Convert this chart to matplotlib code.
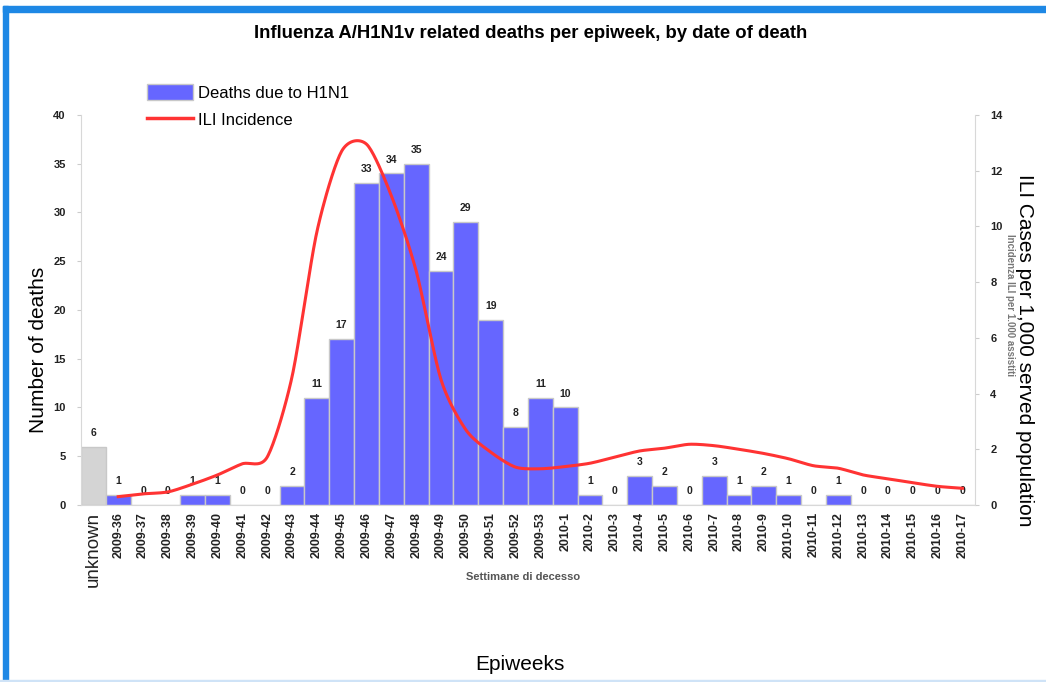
import matplotlib.pyplot as plt
import numpy as np
from matplotlib.patches import Rectangle
from matplotlib.lines import Line2D
from matplotlib.patches import Patch

plt.rcParams['font.family'] = ['Liberation Sans', 'DejaVu Sans']

# Data
weeks = (["unknown"]
         + [f"2009-{w}" for w in range(36, 54)]
         + [f"2010-{w}" for w in range(1, 18)])
deaths = [6,
          1, 0, 0, 1, 1, 0, 0, 2, 11, 17, 33, 34, 35, 24, 29, 19, 8, 11,
          10, 1, 0, 3, 2, 0, 3, 1, 2, 1, 0, 1, 0, 0, 0, 0, 0]
# ILI incidence per 1,000 (no value for "unknown")
ili = [0.3, 0.4, 0.47, 0.75, 1.08, 1.48, 1.72, 4.6, 9.8, 12.7, 12.95, 11.1,
       8.4, 4.5, 2.7, 1.9, 1.36, 1.3,
       1.38, 1.5, 1.72, 1.94, 2.04, 2.18, 2.13, 2.0, 1.85, 1.66, 1.41, 1.32,
       1.08, 0.94, 0.8, 0.67, 0.6]


def smooth(xs, ys, n=20, k=0.8):
    # cardinal spline through the points (like Excel "smoothed line")
    xs = np.asarray(xs, float)
    ys = np.asarray(ys, float)
    px = np.concatenate([[2 * xs[0] - xs[1]], xs, [2 * xs[-1] - xs[-2]]])
    py = np.concatenate([[2 * ys[0] - ys[1]], ys, [2 * ys[-1] - ys[-2]]])
    ox, oy = [], []
    t = np.linspace(0, 1, n, endpoint=False)
    h00 = 2 * t ** 3 - 3 * t ** 2 + 1
    h10 = t ** 3 - 2 * t ** 2 + t
    h01 = -2 * t ** 3 + 3 * t ** 2
    h11 = t ** 3 - t ** 2
    for i in range(1, len(px) - 2):
        for p, o in ((px, ox), (py, oy)):
            m1 = k * (p[i + 1] - p[i - 1]) / 2
            m2 = k * (p[i + 2] - p[i]) / 2
            o.extend(h00 * p[i] + h10 * m1 + h01 * p[i + 1] + h11 * m2)
    ox.append(xs[-1])
    oy.append(ys[-1])
    return np.array(ox), np.array(oy)


fig = plt.figure(figsize=(10.46, 6.82), dpi=100)
ax = fig.add_axes([0.0774, 0.2595, 0.8546, 0.572])

x = np.arange(len(weeks))
colors = ['#d4d4d4'] + ['#6666ff'] * (len(weeks) - 1)
ax.bar(x, deaths, width=1.0, color=colors, edgecolor='#c8c8c8', linewidth=1)
for xi, d in zip(x, deaths):
    ax.text(xi, d + 0.9, str(d), ha='center', va='bottom', fontsize=7.5,
            fontweight='bold', color='#222222')

ax.set_xlim(-0.5, len(weeks) - 0.5)
ax.set_ylim(0, 40)
ax.set_yticks(range(0, 41, 5))
ax.set_xticks(x)
ax.set_xticklabels(weeks, rotation=90, fontsize=9, fontweight='bold', color='#222222')
lbl = ax.get_xticklabels()[0]
lbl.set_fontweight('normal')
lbl.set_fontsize(13.5)
ax.tick_params(axis='x', length=0, pad=5)
ax.tick_params(axis='y', length=3, color='#cccccc', labelsize=8, pad=8)
for t in ax.get_yticklabels():
    t.set_fontweight('bold')
    t.set_color('#222222')
for s in ['top', 'right']:
    ax.spines[s].set_visible(False)
for s in ['left', 'bottom']:
    ax.spines[s].set_color('#d8d8d8')
ax.set_ylabel('Number of deaths', fontsize=15)
ax.yaxis.set_label_coords(-0.037, 0.397)

ax2 = ax.twinx()
sx, sy = smooth(x[1:], ili)
ax2.plot(sx, sy, color='#ff3333', linewidth=2.2)
ax2.set_ylim(0, 14)
ax2.set_yticks(range(0, 15, 2))
ax2.tick_params(axis='y', length=3, color='#cccccc', labelsize=8, pad=8)
for t in ax2.get_yticklabels():
    t.set_fontweight('bold')
    t.set_color('#222222')
for s in ['top', 'left', 'bottom']:
    ax2.spines[s].set_visible(False)
ax2.spines['right'].set_color('#d8d8d8')
ax2.set_ylabel('ILI Cases per 1,000 served population', fontsize=15, rotation=-90,
               va='center')
ax2.yaxis.set_label_coords(1.056, 0.397)

# faded text from the original image
fig.text(0.5, 1 - 577 / 682, 'Settimane di decesso', ha='center', va='center',
         fontsize=8, fontweight='bold', color='#555555')
fig.text(0.966, 1 - 305 / 682, 'Incidenza ILI per 1.000 assistiti', ha='center',
         va='center', fontsize=7, fontweight='bold', color='#777777', rotation=-90)

# legend
handles = [Patch(facecolor='#6666ff', edgecolor='#c8c8c8'),
           Line2D([0], [0], color='#ff3333', linewidth=2.5)]
fig.legend(handles, ['Deaths due to H1N1', 'ILI Incidence'], loc='upper left',
           bbox_to_anchor=(0.134, 0.886), frameon=False, fontsize=12,
           handlelength=2.8, handleheight=1.1, handletextpad=0.25, labelspacing=0.6,
           borderaxespad=0)

fig.suptitle('Influenza A/H1N1v related deaths per epiweek, by date of death',
             x=0.507, y=1 - 33 / 682, va='center', fontsize=13.3, fontweight='bold')
fig.text(0.497, 1 - 665 / 682, 'Epiweeks', ha='center', va='center', fontsize=15)

# blue frame of the screenshot
fig.patches.append(Rectangle((3 / 1046, 0), 5 / 1046, 1 - 6 / 682,
                             transform=fig.transFigure, color='#1e88e5', zorder=0))
fig.patches.append(Rectangle((3 / 1046, 1 - 12 / 682), 1, 6 / 682,
                             transform=fig.transFigure, color='#1e88e5', zorder=0))
fig.patches.append(Rectangle((0, 0), 1, 2 / 682,
                             transform=fig.transFigure, color='#cfe3f7', zorder=0))

fig.savefig('out.png', dpi=100)
